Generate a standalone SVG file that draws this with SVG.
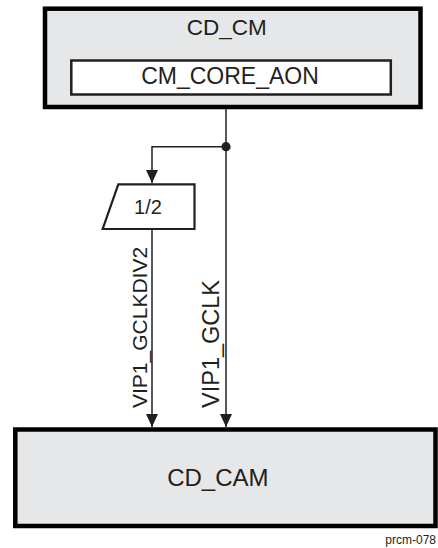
<svg xmlns="http://www.w3.org/2000/svg" width="438" height="548" viewBox="0 0 438 548">
  <style>
    .dom { fill: #e6e7e8; stroke: #000; stroke-width: 4.5; }
    .inner { fill: #fff; stroke: #231f20; stroke-width: 2.5; }
    .div { fill: #fff; stroke: #231f20; stroke-width: 2.2; }
    .t { font-family: "Liberation Sans", Arial, sans-serif; fill: #231f20; }
    .wire { fill: none; stroke: #231f20; stroke-width: 1.5; }
  </style>
  <defs>
    <marker id="arr" markerUnits="userSpaceOnUse" markerWidth="14" markerHeight="12" viewBox="0 0 12 11" refX="12" refY="5.5" orient="auto">
      <path d="M0,0 L12,5.5 L0,11 Z" fill="#231f20"/>
    </marker>
  </defs>

  <g id="cd_cm">
    <rect class="dom" x="45" y="8.7" width="375.5" height="98.3"/>
    <text class="t" x="226.7" y="35" font-size="22.5" text-anchor="middle">CD_CM</text>
  </g>
  <g id="cm_core_aon">
    <rect class="inner" x="71.3" y="60.5" width="319.5" height="34"/>
    <text class="t" x="230" y="84" font-size="23" text-anchor="middle">CM_CORE_AON</text>
  </g>
  <g id="divider">
    <polygon class="div" points="118.3,184.3 194.5,184.3 194.5,229 102.7,229"/>
    <text class="t" x="148" y="214.3" font-size="20" text-anchor="middle">1/2</text>
  </g>
  <g id="cd_cam">
    <rect class="dom" x="15.3" y="429.5" width="420.2" height="96.5"/>
    <text class="t" x="217.8" y="485.7" font-size="24" text-anchor="middle">CD_CAM</text>
  </g>

  <g id="connectors">
    <path class="wire" d="M226,109 L226,427" marker-end="url(#arr)"/>
    <path class="wire" d="M226,146.7 L152,146.7 L152,183" marker-end="url(#arr)"/>
    <circle cx="226" cy="146.7" r="4.6" fill="#231f20"/>
    <path class="wire" d="M152,229 L152,427" marker-end="url(#arr)"/>
    <text class="t" transform="translate(146.7,408) rotate(-90)" font-size="21">VIP1_GCLKDIV2</text>
    <text class="t" transform="translate(219.3,408) rotate(-90)" font-size="23.5">VIP1_GCLK</text>
  </g>

  <text class="t" x="385.3" y="544" font-size="12">prcm-078</text>
</svg>
